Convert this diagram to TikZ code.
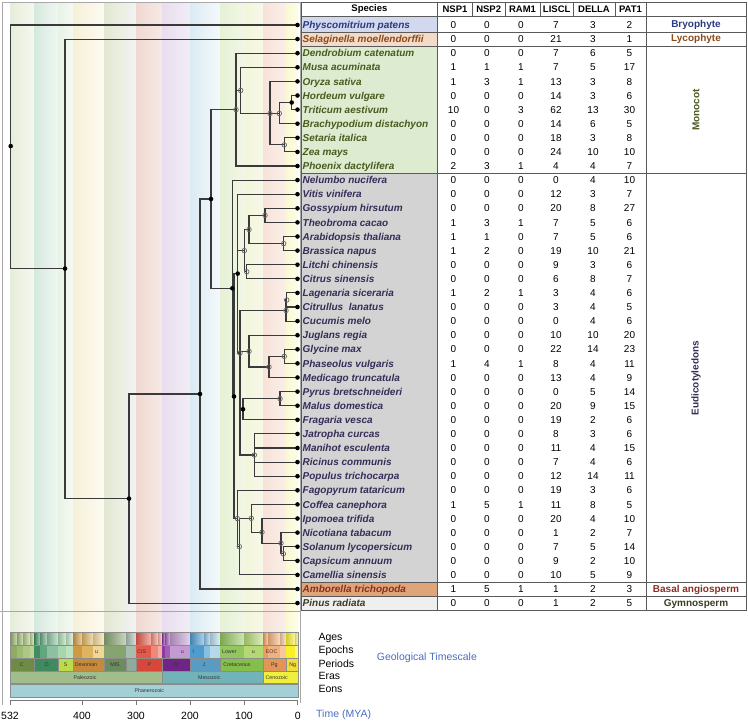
\documentclass[tikz,border=0pt]{standalone}
\usepackage{fontspec}
\setmainfont{Liberation Sans}
\usetikzlibrary{positioning}
\definecolor{treeline}{HTML}{3A3A3A}
\definecolor{gridgray}{HTML}{5A5A5A}
\definecolor{panelgray}{HTML}{A8A8A8}
\definecolor{bryo}{HTML}{D2D9EE}
\definecolor{lyco}{HTML}{F3DBC8}
\definecolor{mono}{HTML}{DDEBD1}
\definecolor{eudi}{HTML}{D3D3D3}
\definecolor{basal}{HTML}{DFA578}
\definecolor{gymno}{HTML}{EFEFEF}
\definecolor{bryotxt}{HTML}{2A3A80}
\definecolor{lycotxt}{HTML}{8B4A1A}
\definecolor{monotxt}{HTML}{4B5A1E}
\definecolor{euditxt}{HTML}{372C58}
\definecolor{basaltxt}{HTML}{8B2E22}
\definecolor{gymnotxt}{HTML}{3C3C22}
\definecolor{timeblue}{HTML}{4A6CC0}
\tikzset{
  spname/.style={anchor=base west, inner sep=0pt, font=\fontsize{10}{12}\selectfont\bfseries\itshape},
  num/.style={anchor=base, inner sep=0pt, font=\fontsize{10}{12}\selectfont},
  hd/.style={inner sep=0pt, font=\fontsize{9.5}{11}\selectfont\bfseries},
  cls/.style={inner sep=0pt, font=\fontsize{10}{12}\selectfont\bfseries},
  tslabel/.style={inner sep=0pt, text=black!80, font=\fontsize{5.3}{6}\selectfont},
  side/.style={anchor=base west, inner sep=0pt, font=\fontsize{10.5}{12}\selectfont},
  grid/.style={draw=gridgray, line width=0.8pt},
  panel/.style={draw=panelgray, line width=0.8pt},
  tsgrid/.style={draw=black!45, line width=0.35pt},
  branch/.style={draw=treeline, line width=1.1pt},
  fullnode/.style={circle, fill=black, inner sep=0pt, minimum size=4.6pt},
  opennode/.style={circle, draw=black!60, line width=0.7pt, inner sep=0pt, minimum size=4.6pt}
}
\begin{document}
\begin{tikzpicture}[x=1pt,y=-1pt]
\useasboundingbox (0,0) rectangle (748,721);

\foreach \xa/\xb/\ca/\cb in {10/34/E7EDDA/F5F8EE, 34/58/D4E9DE/EFF6F1, 58/73/E8F2E6/F5F9F3,
  73/104/F6F0D8/FCFBF0, 104/126/E2E8D3/EEF1E5, 126/136/EDEFED/F3F4F2, 136/162/F1D8D1/F6E9E5,
  162/190/E8DDEE/F3EDF6, 190/220/DAEBF3/F4F9FB, 220/245/E5F1D5/F2F7E5, 245/263/F2F6DA/F7F8E8,
  263/286/F7E2D8/FAEFE8, 286/298/FAF9D2/FDFDE8}{
  \definecolor{sl}{HTML}{\ca}\definecolor{sr}{HTML}{\cb}
  \shade[left color=sl, right color=sr] (\xa,3) rectangle (\xb,632);
}

\fill[bryo] (301,16.5) rectangle (437.7,32.1);
\fill[lyco] (301,32.1) rectangle (437.7,46.2);
\fill[mono] (301,46.2) rectangle (437.7,173.55);
\fill[eudi] (301,173.55) rectangle (437.7,582.45);
\fill[basal] (301,582.45) rectangle (437.7,596.55);
\fill[gymno] (301,596.55) rectangle (437.7,610.65);

\node[hd] (hspecies) at (369.4,9.3) {Species};
\foreach \h/\hx in {NSP1/455, NSP2/488.7, RAM1/522.5, LISCL/556.7, DELLA/594, PAT1/630.5}
  \node[hd] (h\h) at (\hx,9.3) {\h};

\foreach \i/\nm/\a/\b/\c/\d/\e/\f/\g in {
  1/Physcomitrium patens/0/0/0/7/3/2/bryotxt,
  2/Selaginella moellendorffii/0/0/0/21/3/1/lycotxt,
  3/Dendrobium catenatum/0/0/0/7/6/5/monotxt,
  4/Musa acuminata/1/1/1/7/5/17/monotxt,
  5/Oryza sativa/1/3/1/13/3/8/monotxt,
  6/Hordeum vulgare/0/0/0/14/3/6/monotxt,
  7/Triticum aestivum/10/0/3/62/13/30/monotxt,
  8/Brachypodium distachyon/0/0/0/14/6/5/monotxt,
  9/Setaria italica/0/0/0/18/3/8/monotxt,
  10/Zea mays/0/0/0/24/10/10/monotxt,
  11/Phoenix dactylifera/2/3/1/4/4/7/monotxt,
  12/Nelumbo nucifera/0/0/0/0/4/10/euditxt,
  13/Vitis vinifera/0/0/0/12/3/7/euditxt,
  14/Gossypium hirsutum/0/0/0/20/8/27/euditxt,
  15/Theobroma cacao/1/3/1/7/5/6/euditxt,
  16/Arabidopsis thaliana/1/1/0/7/5/6/euditxt,
  17/Brassica napus/1/2/0/19/10/21/euditxt,
  18/Litchi chinensis/0/0/0/9/3/6/euditxt,
  19/Citrus sinensis/0/0/0/6/8/7/euditxt,
  20/Lagenaria siceraria/1/2/1/3/4/6/euditxt,
  21/Citrullus\ \ lanatus/0/0/0/3/4/5/euditxt,
  22/Cucumis melo/0/0/0/0/4/6/euditxt,
  23/Juglans regia/0/0/0/10/10/20/euditxt,
  24/Glycine max/0/0/0/22/14/23/euditxt,
  25/Phaseolus vulgaris/1/4/1/8/4/11/euditxt,
  26/Medicago truncatula/0/0/0/13/4/9/euditxt,
  27/Pyrus bretschneideri/0/0/0/0/5/14/euditxt,
  28/Malus domestica/0/0/0/20/9/15/euditxt,
  29/Fragaria vesca/0/0/0/19/2/6/euditxt,
  30/Jatropha curcas/0/0/0/8/3/6/euditxt,
  31/Manihot esculenta/0/0/0/11/4/15/euditxt,
  32/Ricinus communis/0/0/0/7/4/6/euditxt,
  33/Populus trichocarpa/0/0/0/12/14/11/euditxt,
  34/Fagopyrum tataricum/0/0/0/19/3/6/euditxt,
  35/Coffea canephora/1/5/1/11/8/5/euditxt,
  36/Ipomoea trifida/0/0/0/20/4/10/euditxt,
  37/Nicotiana tabacum/0/0/0/1/2/7/euditxt,
  38/Solanum lycopersicum/0/0/0/7/5/14/euditxt,
  39/Capsicum annuum/0/0/0/9/2/10/euditxt,
  40/Camellia sinensis/0/0/0/10/5/9/euditxt,
  41/Amborella trichopoda/1/5/1/1/2/3/basaltxt,
  42/Pinus radiata/0/0/0/1/2/5/gymnotxt}{
  \pgfmathsetmacro\yy{10.9+14.1*\i}
  \coordinate (t\i) at (297.5,\yy);
  \node[spname, text=\g] (sp\i) at (302.5,\yy+3.6) {\nm};
  \foreach \v [count=\k from 0] in {\a,\b,\c,\d,\e,\f}{
    \pgfmathsetmacro\xx{{453.5,487,521,556,593,629.5}[\k]}
    \node[num] (v\i-\k) at (\xx,\yy+3.6) {\v};
  }
}

\node[cls, text=bryotxt] (cbryo) at (696,25) {Bryophyte};
\node[cls, text=lycotxt] (clyco) at (696,39.1) {Lycophyte};
\node[cls, text=monotxt, rotate=90] (cmono) at (696,110) {Monocot};
\node[cls, text=euditxt, rotate=90] (cdicot) at (696,378) {Eudicotyledons};
\node[cls, text=basaltxt] (cbasal) at (696,589.5) {Basal angiosperm};
\node[cls, text=gymnotxt] (cgymno) at (696,603.6) {Gymnosperm};

\draw[grid] (301,2) rectangle (746.7,610.65);
\foreach \yl in {16.5,32.1,46.2,173.55,582.45,596.55}
  \draw[grid] (301,\yl) -- (746.7,\yl);
\foreach \xl in {472.3,505,540,573.3,615}
  \draw[grid] (\xl,2) -- (\xl,16.5);
\foreach \xl in {437.7,646}
  \draw[grid] (\xl,2) -- (\xl,610.65);

\draw[panel] (2,2) -- (300,2);
\draw[panel] (2,2) -- (2,705);
\draw[panel] (300,2) -- (300,703);
\draw[panel] (0,611.5) -- (300,611.5);

\foreach \xa/\xb/\c in {10/17/8DAE62, 17/23/9DBB72, 23/30/ADC784, 30/34/BDD196,
  34/40/3E8E62, 40/47/62A67E, 47/58/8CC0A0, 58/66/A6D6AC, 66/73/BEE2C0,
  73/82/D09A45, 82/93/DEB45E, 93/104/EFD596, 104/126/86A470, 126/136/A7BDB0,
  136/151/E35A4A, 151/158/EE8878, 158/162/F3ADA2, 162/165/8C3A9E, 165/170/A45CB4,
  170/190/C49AD2, 190/204/4E9CCF, 204/210/86C0DF, 210/220/B5D9EA, 220/244/92C65E,
  244/263/B4D873, 263/268/EE9C5C, 268/280/F2B07C, 280/286/F6C8A0, 286/295/F8F02A,
  295/298/FAF68A}{
  \definecolor{ec}{HTML}{\c}
  \shade[left color=ec!85!black, right color=ec!45!white] (\xa,632) rectangle (\xb,645.5);
  \fill[ec] (\xa,645.5) rectangle (\xb,658);
}
\foreach \xa/\xb/\c/\lab/\lx [count=\k] in {10/34/6F8C45/C/21.7, 34/58/3F8A5E/O/46.7,
  58/73/BBDB4A/S/65.7, 73/104/C58A3A/Devonian/86, 104/126/6B8C5E/MIS/115,
  126/136/8FAA9C/{}/131, 136/162/D9473A/P/149.3, 162/190/6E2585/Tr/175.7,
  190/220/5A9BC4/J/204, 220/263/86BE4C/Cretaceous/237, 263/286/E39457/Pg/274.3,
  286/298/F2DE3A/Ng/292.7}{
  \definecolor{pc}{HTML}{\c}
  \fill[pc] (\xa,658) rectangle (\xb,671);
  \draw[tsgrid] (\xa,658) -- (\xa,671);
  \node[tslabel] (per\k) at (\lx,664.8) {\lab};
}
\foreach \lab/\lx [count=\k] in {u/96.7, CIS/141.7, u/182.3, l/193.3, Lower/229.3, u/253.3, EOC/271.7}
  \node[tslabel] (epo\k) at (\lx,652) {\lab};
\foreach \xa/\xb/\c/\lab/\lx [count=\k] in {10/162/A2BD8C/Paleozoic/85,
  162/263/72B3BA/Mesozoic/209.3, 263/298/F0F03C/Cenozoic/276.7}{
  \definecolor{ac}{HTML}{\c}
  \fill[ac] (\xa,671) rectangle (\xb,683.5);
  \draw[tsgrid] (\xa,671) -- (\xa,683.5);
  \node[tslabel] (era\k) at (\lx,677.5) {\lab};
}
\definecolor{eoncol}{HTML}{A3D0D6}
\fill[eoncol] (10,684.3) rectangle (298,697);
\node[tslabel] (eon) at (149.3,690.8) {Phanerozoic};
\draw[tsgrid] (10,632) rectangle (298,683.5);
\draw[tsgrid] (10,684.3) rectangle (298,697);
\foreach \yl in {645.5,658,671}
  \draw[tsgrid] (10,\yl) -- (298,\yl);

\draw[panelgray!70!black, line width=0.6pt] (10,700.5) -- (298,700.5);
\foreach \my/\tx [count=\k] in {532/10, 400/82, 300/136, 200/190, 100/244, 0/297.7}{
  \draw[panelgray!70!black, line width=0.6pt] (\tx,700.5) -- (\tx,704.5);
  \node[num, font=\fontsize{10.5}{12}\selectfont] (tick\k) at (\tx,719) {\my};
}

\node[side] (lages) at (318.3,640.4) {Ages};
\node[side] (lepochs) at (318.3,653) {Epochs};
\node[side] (lperiods) at (318.3,667) {Periods};
\node[side] (leras) at (318.3,679.7) {Eras};
\node[side] (leons) at (318.3,692) {Eons};
\node[side, text=timeblue] (lgeo) at (376.7,660.3) {Geological Timescale};
\node[side, text=timeblue] (ltime) at (316,717.6) {Time (MYA)};

\coordinate (root) at (10.7,146.1);
\coordinate (nA) at (65,268.6);
\coordinate (nB) at (129,498.6);
\coordinate (nC) at (200,394);
\coordinate (nD) at (211,199);
\coordinate (nM1) at (236,109.6);
\coordinate (nM2) at (240.7,90.5);
\coordinate (nM3) at (270,113.5);
\coordinate (nM4) at (279.3,113.5);
\coordinate (nM5) at (291.7,102.5);
\coordinate (nM6) at (284.3,144.9);
\coordinate (nE0) at (232.3,288.3);
\coordinate (nE1) at (234,396.5);
\coordinate (nNa) at (237.7,273.6);
\coordinate (nMalv) at (244.3,250.6);
\coordinate (nN249) at (249,229.5);
\coordinate (nGT) at (265,215.35);
\coordinate (nAB) at (283.7,243.55);
\coordinate (nLC) at (246.7,271.75);
\coordinate (nNc) at (240,353);
\coordinate (nCuc) at (286,310.5);
\coordinate (nLag) at (286.7,300);
\coordinate (nFab) at (249,351.4);
\coordinate (nLeg) at (269,367);
\coordinate (nGP) at (284.3,356.35);
\coordinate (nRos) at (243,409.2);
\coordinate (nPM) at (280,398.65);
\coordinate (nMal) at (254.3,455);
\coordinate (nNb) at (237.3,518.5);
\coordinate (nAst) at (239.3,546.6);
\coordinate (nCof) at (251.3,518.3);
\coordinate (nIp) at (262,532.2);
\coordinate (nSol) at (281,543.2);
\coordinate (nCap) at (283.3,553.75);

\foreach \p/\c in {root/t1, root/nA, nA/t2, nA/nB, nB/nC, nB/t42, nC/nD, nC/t41,
  nD/nM1, nD/nE0, nM1/t3, nM1/nM2, nM1/t11, nM2/t4, nM2/nM3, nM3/t5, nM3/nM4,
  nM3/nM6, nM4/nM5, nM4/t8, nM5/t6, nM5/t7, nM6/t9, nM6/t10, nE0/t12, nE0/nE1,
  nE1/nNa, nE1/nNb, nNa/t13, nNa/nMalv, nNa/nNc, nMalv/nN249, nMalv/nLC,
  nN249/nGT, nN249/nAB, nGT/t14, nGT/t15, nAB/t16, nAB/t17, nLC/t18, nLC/t19,
  nNc/nCuc, nNc/nFab, nNc/nRos, nNc/nMal, nCuc/nLag, nCuc/t22, nLag/t20, nLag/t21,
  nFab/t23, nFab/nLeg, nLeg/nGP, nLeg/t26, nGP/t24, nGP/t25, nRos/nPM, nRos/t29,
  nPM/t27, nPM/t28, nMal/t30, nMal/t31, nMal/t32, nMal/t33, nNb/t34, nNb/nAst,
  nAst/nCof, nAst/t40, nCof/t35, nCof/nIp, nIp/t36, nIp/nSol, nSol/t37, nSol/nCap,
  nCap/t38, nCap/t39}
  \draw[branch] (\p) |- (\c);

\foreach \n in {root,nA,nB,nC,nD,nM5,nE0,nE1,nNa,nRos}
  \node[fullnode] at (\n) {};
\foreach \n in {nM1,nM2,nM3,nM4,nM6,nMalv,nN249,nGT,nAB,nLC,nNc,nCuc,nLag,nFab,
  nLeg,nGP,nPM,nMal,nNb,nAst,nCof,nIp,nSol,nCap}
  \node[opennode] at (\n) {};
\foreach \i in {1,...,42}
  \node[fullnode] at (t\i) {};
\end{tikzpicture}
\end{document}
